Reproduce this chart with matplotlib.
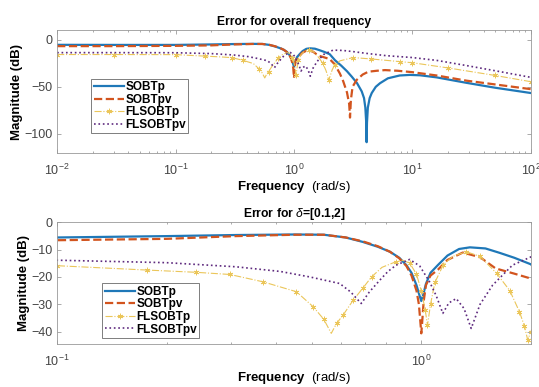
import matplotlib
matplotlib.use('Agg')
import matplotlib.pyplot as plt
from matplotlib.ticker import LogLocator, NullFormatter

plt.rcParams['font.family'] = ['Liberation Sans', 'DejaVu Sans']
plt.rcParams['mathtext.fontset'] = 'custom'
plt.rcParams['mathtext.rm'] = 'Liberation Sans'
plt.rcParams['mathtext.it'] = 'Liberation Sans:italic'
plt.rcParams['mathtext.bf'] = 'Liberation Sans:bold'

# Error curves (frequency in rad/s, magnitude in dB)
w_sobtp = [0.01, 0.03, 0.1, 0.2, 0.31, 0.45, 0.54, 0.62, 0.69, 0.76, 0.82, 0.87, 0.91, 0.94,
           0.97, 0.99, 1.0, 1.01, 1.03, 1.06, 1.11, 1.18, 1.27, 1.36, 1.5, 1.64, 1.8, 2.0,
           2.22, 2.5, 2.8, 3.07, 3.4, 3.73, 3.9, 4.0, 4.07, 4.1, 4.13, 4.2, 4.35, 4.53, 4.9,
           5.32, 6.2, 7.8, 9.5, 11.6, 16, 28.6, 50, 100]
db_sobtp = [-5.5, -5.6, -5.6, -5.1, -4.7, -4.5, -4.6, -5.6, -7.2, -9.0, -10.8, -13.0, -15.7, -18.5,
            -23, -27, -28.8, -27, -22.5, -18.5, -15.7, -12.2, -9.8, -9.2, -9.6, -11.2, -13.0, -15.4,
            -21.9, -27.5, -33.5, -39.2, -46, -54.9, -62, -72, -88, -108.7, -88, -72, -62, -56.6, -50,
            -46.2, -41, -38, -37.4, -37.8, -40, -45.8, -51, -56.6]

w_sobtpv = [0.01, 0.03, 0.1, 0.2, 0.31, 0.45, 0.54, 0.62, 0.69, 0.76, 0.82, 0.87, 0.91, 0.94,
            0.97, 0.985, 0.995, 1.0, 1.005, 1.015, 1.03, 1.06, 1.11, 1.18, 1.3, 1.45, 1.6, 1.8,
            2.0, 2.2, 2.44, 2.6, 2.8, 2.92, 2.97, 3.02, 3.12, 3.38, 3.8, 4.24, 5.0, 5.86, 7.5,
            10, 16, 28.6, 50, 100]
db_sobtpv = [-6.9, -6.9, -6.6, -6.1, -5.1, -4.6, -4.6, -5.6, -7.0, -8.8, -10.8, -13.2, -16.0, -19.5,
             -25, -30, -37, -40.6, -37, -29, -23, -19.5, -17.4, -13.8, -11.1, -12.8, -16.9, -18.8,
             -20.6, -26, -36, -44, -56, -68, -82.6, -64, -50, -42.7, -37, -34, -33, -32.3, -33,
             -34.5, -38, -43.5, -47.5, -52.5]

w_flp = [0.01, 0.03, 0.1, 0.177, 0.24, 0.298, 0.368, 0.454, 0.505, 0.54, 0.566, 0.585, 0.61,
         0.65, 0.69, 0.73, 0.78, 0.85, 0.889, 0.93, 0.97, 1.0, 1.025, 1.04, 1.06, 1.09, 1.15,
         1.22, 1.33, 1.45, 1.61, 1.75, 1.86, 1.92, 1.96, 2.0, 2.1, 2.2, 2.44, 3.15, 4.5, 7.8,
         10, 20, 50, 100]
db_flp = [-15.8, -15.8, -15.9, -17.5, -18.3, -19.1, -21.8, -25.4, -30.9, -35.5, -40.6, -37, -33.9,
          -28.5, -24.2, -20, -16.5, -14.5, -13.9, -15, -19, -25, -32, -37.6, -30, -22, -15.5,
          -12.5, -10.8, -12.5, -18.7, -25, -32.7, -38, -43, -40, -32, -27, -22.5, -19, -20.5, -23.3,
          -24.5, -30, -38, -44.6]

w_flpv = [0.01, 0.03, 0.1, 0.2, 0.31, 0.41, 0.494, 0.597, 0.64, 0.684, 0.72, 0.769, 0.81, 0.853,
          0.929, 0.99, 1.054, 1.1, 1.146, 1.19, 1.247, 1.31, 1.371, 1.45, 1.57, 1.78, 2.0, 2.14,
          2.6, 3.2, 4.1, 6, 10, 16, 28.6, 50, 100]
db_flpv = [-13.8, -13.8, -13.9, -14.8, -16.3, -18, -20, -22.4, -25.5, -29.7, -25.5, -21.2, -18, -15.7,
           -13.6, -16, -21.8, -27, -33.3, -29.5, -27.9, -31.5, -38.8, -30, -23, -15.7, -12.7, -11.1,
           -11.5, -12.8, -14.6, -17, -19, -22, -27.5, -33, -40]

labels = ['SOBTp', 'SOBTpv', 'FLSOBTp', 'FLSOBTpv']

fig = plt.figure(figsize=(5.39, 3.87), dpi=100)
ax1 = fig.add_axes([0.106, 0.605, 0.879, 0.317])
ax2 = fig.add_axes([0.106, 0.111, 0.879, 0.315])

def draw(ax):
    ax.plot(w_sobtp, db_sobtp, '-', color='#1f78b8', lw=1.6, label=labels[0])
    ax.plot(w_sobtpv, db_sobtpv, '--', color='#d2541e', lw=1.6, label=labels[1])
    ax.plot(w_flp, db_flp, '-.', color='#ebc65a', lw=0.8, marker=(6, 2, 0), ms=4, mew=0.6,
            markevery=0.035, label=labels[2])
    ax.plot(w_flpv, db_flpv, ':', color='#5e2a7e', lw=1.2, label=labels[3])
    ax.set_xscale('log')
    ax.tick_params(which='both', direction='in', top=True, right=True,
                   colors='#888888', labelcolor='#444444', labelsize=9, width=0.5)
    ax.tick_params(which='major', length=3)
    ax.tick_params(which='minor', length=1.5)
    ax.tick_params(axis='x', pad=7)
    for s in ax.spines.values():
        s.set_color('#999999')
        s.set_linewidth(0.6)
    ax.xaxis.set_minor_locator(LogLocator(base=10, subs=range(2, 10), numticks=20))
    ax.xaxis.set_minor_formatter(NullFormatter())
    ax.set_xlabel(r'$\bf{Frequency}$  (rad/s)', fontsize=9.5, labelpad=1)
    ax.set_ylabel('Magnitude (dB)', fontsize=9.5, fontweight='bold', labelpad=1)

legend_kw = dict(loc='lower left', prop={'weight': 'bold', 'size': 8.5}, frameon=True,
                 fancybox=False, borderpad=0.2, labelspacing=0.05, handlelength=2.6,
                 handletextpad=0.1, borderaxespad=0)

draw(ax1)
ax1.set_xlim(0.01, 100)
ax1.set_ylim(-120, 10)
ax1.set_yticks([0, -50, -100])
ax1.set_title('Error for overall frequency', fontsize=8.7, fontweight='bold', pad=4)
leg1 = ax1.legend(bbox_to_anchor=(0.072, 0.16), **legend_kw)
leg1.get_frame().set_edgecolor('#444444')
leg1.get_frame().set_linewidth(0.6)

draw(ax2)
ax2.set_xlim(0.1, 2)
ax2.set_ylim(-44.5, 0)
ax2.set_yticks([0, -10, -20, -30, -40])
ax2.set_title(r'Error for $\it{\delta}$=[0.1,2]', fontsize=8.7, fontweight='bold', pad=4)
leg2 = ax2.legend(bbox_to_anchor=(0.095, 0.05), **legend_kw)
leg2.get_frame().set_edgecolor('#444444')
leg2.get_frame().set_linewidth(0.6)

fig.savefig('out.png', dpi=100)
